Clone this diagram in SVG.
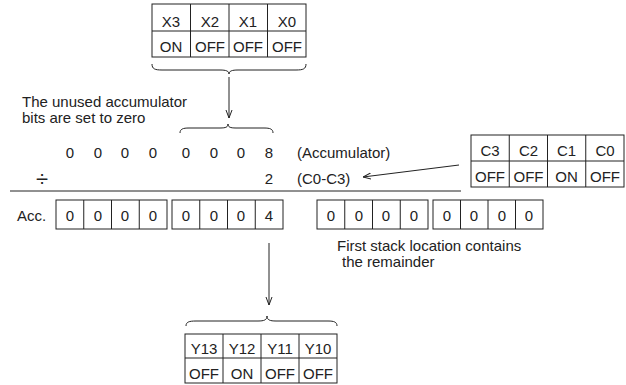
<svg xmlns="http://www.w3.org/2000/svg" width="626" height="385" viewBox="0 0 626 385">
<style>
text{font-family:"Liberation Sans",Arial,sans-serif;font-size:15px;fill:#222}
.c{text-anchor:middle}
.div{font-size:22px}
.box{fill:#fff;stroke:#222;stroke-width:1}
.ln{fill:none;stroke:#222;stroke-width:1}
.arr{fill:none;stroke:#222;stroke-width:1;marker-end:url(#ah)}
</style>
<defs>
<marker id="ah" viewBox="0 0 8 8" refX="8" refY="4" markerWidth="8" markerHeight="8" markerUnits="userSpaceOnUse" orient="auto">
<path d="M0,1 L8,4 L0,7" fill="none" stroke="#222" stroke-width="1"/>
</marker>
</defs>
<rect width="626" height="385" fill="#fff"/>

<g id="x-inputs">
<rect class="box" x="152" y="4" width="154" height="53"/>
<path class="ln" d="M152,31 H306 M190.5,4 V57 M229,4 V57 M267.5,4 V57"/>
<text class="c" x="171" y="26.5">X3</text><text class="c" x="210" y="26.5">X2</text><text class="c" x="248" y="26.5">X1</text><text class="c" x="287" y="26.5">X0</text>
<text class="c" x="171" y="52">ON</text><text class="c" x="210" y="52">OFF</text><text class="c" x="248" y="52">OFF</text><text class="c" x="287" y="52">OFF</text>
</g>

<g id="note-unused">
<text x="22" y="107">The unused accumulator</text>
<text x="22" y="123">bits are set to zero</text>
</g>

<g id="division">
<text class="c" x="70" y="158">0</text><text class="c" x="98" y="158">0</text><text class="c" x="125" y="158">0</text><text class="c" x="153" y="158">0</text>
<text class="c" x="186" y="158">0</text><text class="c" x="214" y="158">0</text><text class="c" x="241" y="158">0</text><text class="c" x="269" y="158">8</text>
<text x="297" y="158">(Accumulator)</text>
<text class="c div" x="42" y="186">÷</text>
<text class="c" x="269" y="184">2</text>
<text x="297" y="184">(C0-C3)</text>
<path class="ln" d="M10,191 H461"/>
</g>

<g id="c-inputs">
<rect class="box" x="471" y="135" width="153" height="52"/>
<path class="ln" d="M471,161 H624 M509.25,135 V187 M547.5,135 V187 M585.75,135 V187"/>
<text class="c" x="490" y="156">C3</text><text class="c" x="528.5" y="156">C2</text><text class="c" x="566.5" y="156">C1</text><text class="c" x="605" y="156">C0</text>
<text class="c" x="490" y="182">OFF</text><text class="c" x="528.5" y="182">OFF</text><text class="c" x="566.5" y="182">ON</text><text class="c" x="605" y="182">OFF</text>
</g>

<g id="accumulator">
<text x="17" y="221">Acc.</text>
<rect class="box" x="56" y="200" width="111" height="29"/>
<path class="ln" d="M83.75,200 V229 M111.5,200 V229 M139.25,200 V229"/>
<rect class="box" x="172" y="200" width="111" height="29"/>
<path class="ln" d="M199.75,200 V229 M227.5,200 V229 M255.25,200 V229"/>
<text class="c" x="70" y="221">0</text><text class="c" x="98" y="221">0</text><text class="c" x="125" y="221">0</text><text class="c" x="153" y="221">0</text>
<text class="c" x="186" y="221">0</text><text class="c" x="214" y="221">0</text><text class="c" x="241" y="221">0</text><text class="c" x="269" y="221">4</text>
</g>

<g id="stack">
<rect class="box" x="317" y="200" width="111" height="29"/>
<path class="ln" d="M344.75,200 V229 M372.5,200 V229 M400.25,200 V229"/>
<rect class="box" x="433" y="200" width="110" height="29"/>
<path class="ln" d="M460.5,200 V229 M488,200 V229 M515.5,200 V229"/>
<text class="c" x="331" y="221">0</text><text class="c" x="359" y="221">0</text><text class="c" x="386" y="221">0</text><text class="c" x="414" y="221">0</text>
<text class="c" x="447" y="221">0</text><text class="c" x="474" y="221">0</text><text class="c" x="502" y="221">0</text><text class="c" x="529" y="221">0</text>
<text x="337" y="251">First stack location contains</text>
<text x="342" y="267">the remainder</text>
</g>

<g id="y-outputs">
<rect class="box" x="185" y="334" width="152" height="49"/>
<path class="ln" d="M185,358 H337 M223,334 V383 M261,334 V383 M299,334 V383"/>
<text class="c" x="204" y="354">Y13</text><text class="c" x="242" y="354">Y12</text><text class="c" x="280" y="354">Y11</text><text class="c" x="318" y="354">Y10</text>
<text class="c" x="204" y="379">OFF</text><text class="c" x="242" y="379">ON</text><text class="c" x="280" y="379">OFF</text><text class="c" x="318" y="379">OFF</text>
</g>

<g id="connectors">
<path class="ln" d="M152,64 C152,69 155,70 162,70 L220,70 C226,70 229,71 229,74 C229,71 232,70 238,70 L296,70 C303,70 306,69 306,64"/>
<path class="arr" d="M229,77 V118"/>
<path class="ln" d="M180,133 C180,129 183,128 189,128 L220,128 C226,128 228,127 228,124 C228,127 230,128 236,128 L264,128 C270,128 273,129 273,133"/>
<path class="arr" d="M459,165 L363,177"/>
<path class="arr" d="M269,243 V305"/>
<path class="ln" d="M186,326 C186,322 189,321 196,321 L258,321 C264,321 267,320 267,316 C267,320 270,321 276,321 L328,321 C334,321 337,322 337,326"/>
</g>
</svg>
